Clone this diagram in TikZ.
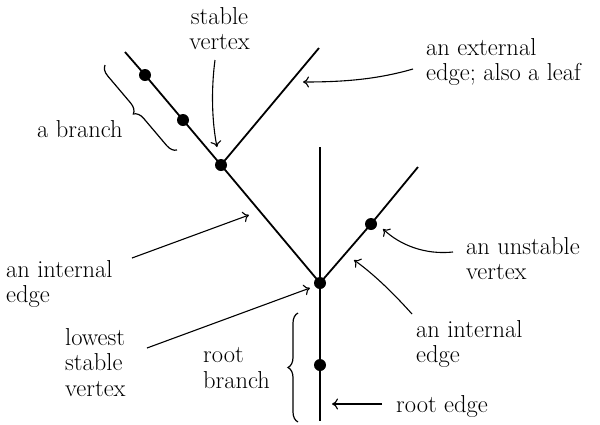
\documentclass[tikz,border=0pt]{standalone}
\usetikzlibrary{arrows.meta,decorations.pathreplacing}
\begin{document}
\begin{tikzpicture}[x=1pt,y=-1pt,
  edge/.style={line width=1.8pt},
  vtx/.style={circle,fill,inner sep=0pt,minimum size=12pt},
  lbl/.style={font=\fontsize{24.5}{25.5}\selectfont,inner sep=0pt,align=left},
  pointer/.style={line width=1.1pt,-{To[length=6pt,width=11pt]}},
  brc/.style={line width=1.2pt,decorate,decoration={brace,amplitude=10pt}}]
\useasboundingbox (0,0) rectangle (600,424);
% tree
\coordinate (leafA) at (125,52);
\node[vtx] (d1) at (145,75) {};
\node[vtx] (d2) at (183,120) {};
\node[vtx] (sv) at (221,165) {};
\coordinate (leafB) at (319,48);
\node[vtx] (lv) at (320,283) {};
\coordinate (top) at (320,147);
\node[vtx] (uv) at (371,224) {};
\coordinate (leafC) at (418,167);
\node[vtx] (rv) at (320,365) {};
\coordinate (rootend) at (320,421);
\draw[edge] (leafA) -- (d1.center) -- (d2.center) -- (sv.center) -- (lv.center);
\draw[edge] (sv.center) -- (leafB);
\draw[edge] (top) -- (lv.center) -- (rv.center) -- (rootend);
\draw[edge] (lv.center) -- (uv.center) -- (leafC);
% labels
\node[lbl,align=center,anchor=north] (Lsv) at (219.5,7) {stable\\vertex};
\node[lbl,anchor=north west] (Lext) at (426,38) {an external\\edge; also a leaf};
\node[lbl,anchor=base west] (Lbr) at (37,137) {a branch};
\node[lbl,anchor=north west] (Lie) at (6,260) {an internal\\edge};
\node[lbl,anchor=north west] (Llow) at (65,328) {lowest\\stable\\vertex};
\node[lbl,anchor=north west] (Lrb) at (203,347.5) {root\\branch};
\node[lbl,anchor=north west] (Luv) at (466,237) {an unstable\\vertex};
\node[lbl,anchor=north west] (Lie2) at (416,320) {an internal\\edge};
\node[lbl,anchor=base west] (Lre) at (396,412) {root edge};
% pointer ends
\coordinate (a1s) at (215,60);   \coordinate (a1e) at (217,147);
\coordinate (a2s) at (413,69);   \coordinate (a2e) at (303,82);
\coordinate (a3s) at (132,258);  \coordinate (a3e) at (249,215);
\coordinate (a4s) at (147,348);  \coordinate (a4e) at (310,288);
\coordinate (a5s) at (453,252);  \coordinate (a5e) at (383,229);
\coordinate (a6s) at (412,314);  \coordinate (a6e) at (354,260);
\coordinate (a7s) at (382,404);  \coordinate (a7e) at (332,404);
\draw[pointer] (a1s) .. controls (211,90) and (212,122) .. (a1e);
\draw[pointer] (a2s) .. controls (375,80) and (340,82) .. (a2e);
\draw[pointer] (a3s) -- (a3e);
\draw[pointer] (a4s) -- (a4e);
\draw[pointer] (a5s) .. controls (425,255) and (400,245) .. (a5e);
\draw[pointer] (a6s) .. controls (395,295) and (375,275) .. (a6e);
\draw[pointer] (a7s) -- (a7e);
% braces
\coordinate (b1a) at (177,150); \coordinate (b1b) at (105,65);
\coordinate (b2a) at (298,422); \coordinate (b2b) at (298,313);
\draw[brc] (b1a) -- (b1b);
\draw[brc] (b2a) -- (b2b);
\end{tikzpicture}
\end{document}
